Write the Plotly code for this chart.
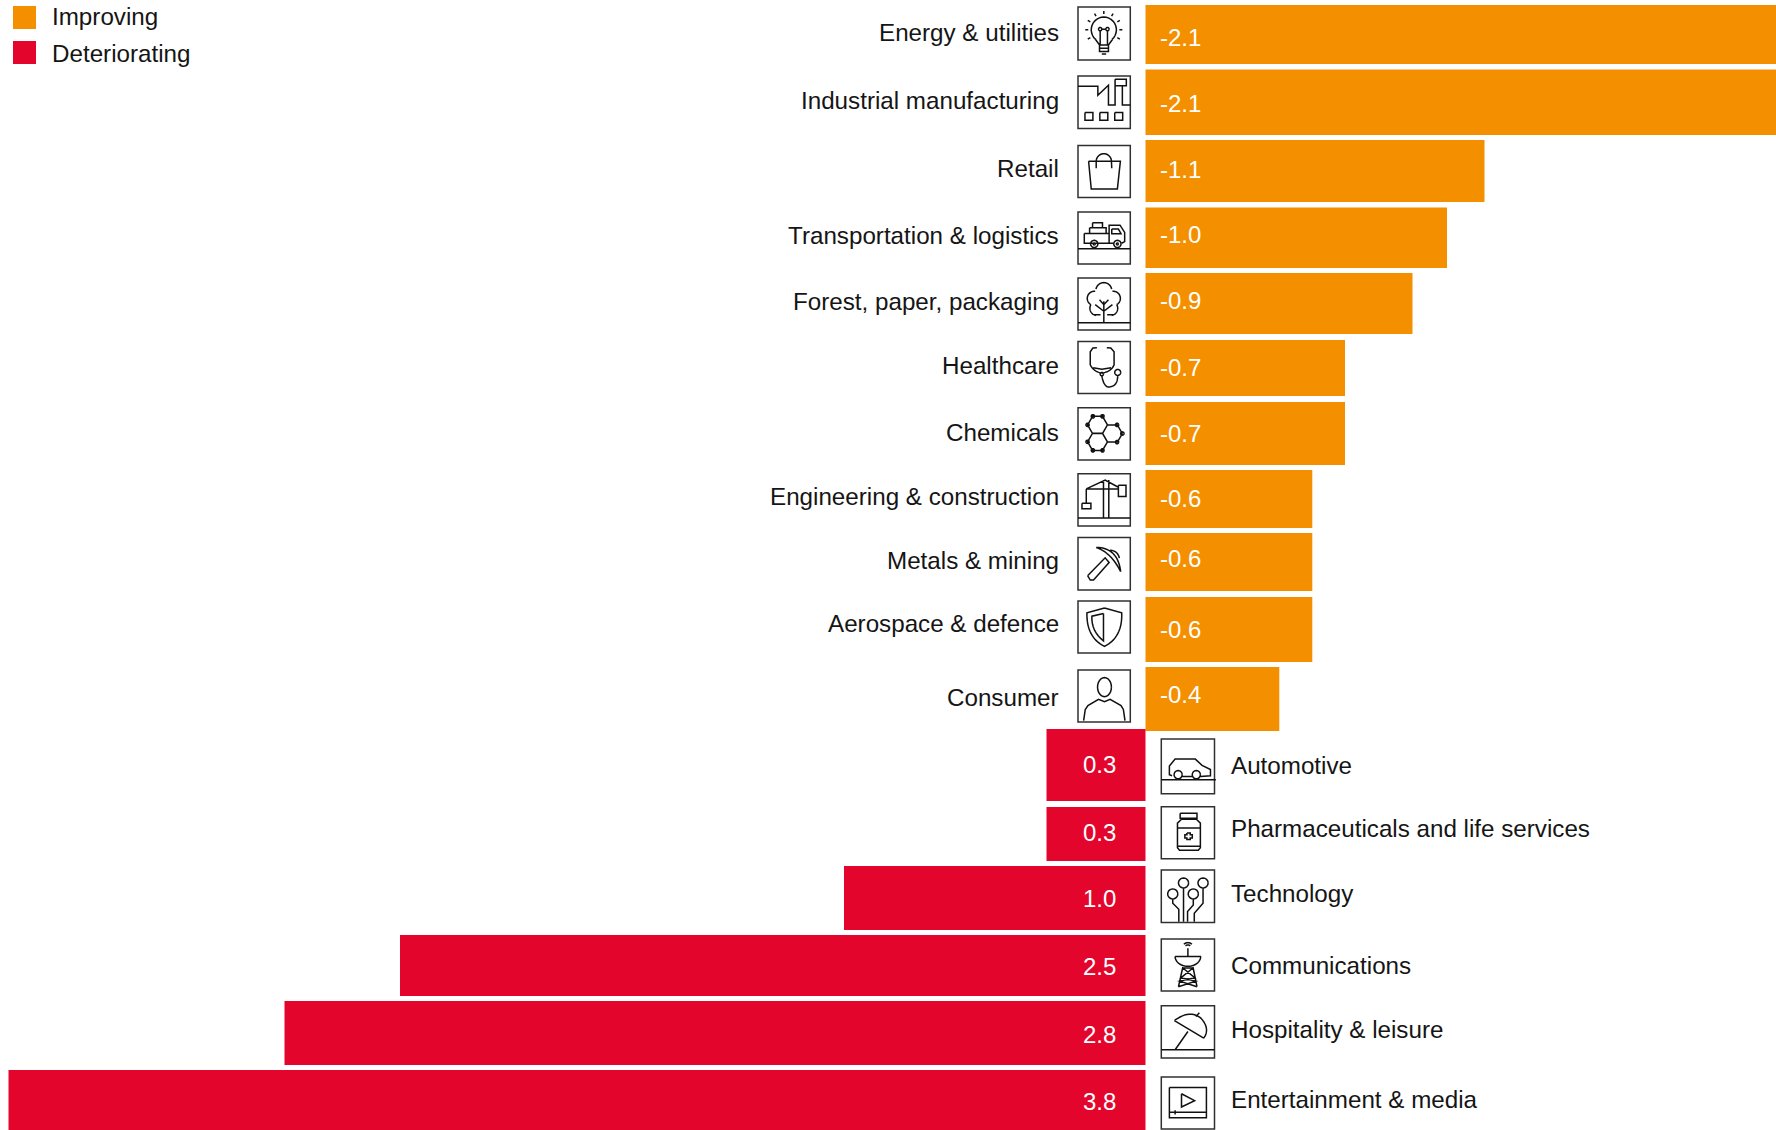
import math
import plotly.graph_objects as go

W, H = 1776, 1130
ORANGE, RED = "#F49000", "#E4052C"
FONT = "Liberation Sans"

# ---- chart data -------------------------------------------------------
improving_names = ["Energy & utilities", "Industrial manufacturing", "Retail",
                   "Transportation & logistics", "Forest, paper, packaging",
                   "Healthcare", "Chemicals", "Engineering & construction",
                   "Metals & mining", "Aerospace & defence", "Consumer"]
improving_values = [-2.11, -2.11, -1.13, -1.005, -0.89, -0.665, -0.665, -0.556, -0.556, -0.556, -0.446]
improving_labels = ["-2.1", "-2.1", "-1.1", "-1.0", "-0.9", "-0.7", "-0.7", "-0.6", "-0.6", "-0.6", "-0.4"]

deteriorating_names = ["Automotive", "Pharmaceuticals and life services", "Technology",
                       "Communications", "Hospitality & leisure", "Entertainment & media"]
deteriorating_values = [0.33, 0.33, 1.005, 2.485, 2.87, 3.79]
deteriorating_labels = ["0.3", "0.3", "1.0", "2.5", "2.8", "3.8"]

# ---- layout of the rows (page pixels) -----------------------------------
imp_bands = [(5, 64), (69.5, 135), (140, 202), (207.5, 268), (273, 334), (340, 396),
             (402, 465), (470, 528), (533, 591), (597, 662), (667, 731)]
det_bands = [(729, 801), (807, 861), (866, 930), (935, 996), (1001, 1065), (1070, 1130)]
imp_name_y = [33, 100, 168, 236, 302, 366, 433, 497, 560, 623, 697]
det_name_y = [765, 828, 893, 965, 1029, 1099]
imp_val_y = [37, 103, 169, 234, 300, 367, 433, 498, 558, 629, 694]
det_val_y = [764, 832, 898, 966, 1034, 1101]
imp_box = [(7, 60), (76, 128.5), (145.5, 197.5), (212, 264), (278, 330), (341.5, 393.5),
           (407.7, 460), (473.7, 526), (537.5, 590), (601, 653), (670, 722)]
det_box = [(739, 793.7), (806.7, 858.7), (870, 922.5), (939, 991), (1005.7, 1058), (1077, 1129)]
IMP_BOX_X = (1078, 1130.3)
DET_BOX_X = (1161.3, 1214.5)
ZERO_PX, PX_PER_UNIT = 1145.5, 300.0
TEXT_SIZE = 24.2


# ---- icon helpers (local box units: 158 x 158) ---------------------------
def arc(cx, cy, rx, a0, a1, ry=None, n=24):
    ry = rx if ry is None else ry
    return [(cx + rx * math.cos(math.radians(a0 + (a1 - a0) * i / n)),
             cy + ry * math.sin(math.radians(a0 + (a1 - a0) * i / n))) for i in range(n + 1)]


def circ(cx, cy, r, ry=None):
    return arc(cx, cy, r, 0, 360, ry)


def rect(x0, y0, x1, y1):
    return [(x0, y0), (x1, y0), (x1, y1), (x0, y1), (x0, y0)]


def quad(p0, c, p1, n=16):
    pts = []
    for i in range(n + 1):
        t = i / n
        pts.append(((1 - t) ** 2 * p0[0] + 2 * t * (1 - t) * c[0] + t * t * p1[0],
                    (1 - t) ** 2 * p0[1] + 2 * t * (1 - t) * c[1] + t * t * p1[1]))
    return pts


def hex_at(cx, cy, r):
    return [(cx + r * math.cos(math.radians(a)), cy + r * math.sin(math.radians(a)))
            for a in range(0, 361, 60)]


def bulb():
    p = [arc(78, 68, 38, 130, 410), [(53, 97), (65, 113), (92, 113), (104, 97)],
         rect(65, 113, 92, 133), [(65, 123), (92, 123)], [(72, 140), (85, 140)],
         [(67, 72), (67, 113)], [(89, 72), (89, 113)], circ(67, 66, 5), circ(89, 66, 5), [(72, 66), (84, 66)]]
    for a in range(150, 400, 30):
        c, s = math.cos(math.radians(a)), math.sin(math.radians(a))
        p.append([(78 + 47 * c, 68 + 47 * s), (78 + 56 * c, 68 + 56 * s)])
    return p


def factory():
    return [[(0, 31), (60, 31), (60, 58), (92, 28), (92, 87), (112, 87), (112, 29)],
            rect(112, 10, 146, 29), [(134, 29), (134, 87), (158, 87)],
            rect(21, 110, 45, 133), rect(66, 110, 90, 133), rect(111, 110, 135, 133)]


def bag():
    return [[(32, 48), (128, 48), (119, 132), (40, 132), (32, 48)],
            [(55, 69), (55, 48)] + arc(78, 48, 23, 180, 360) + [(102, 69)]]


def truck():
    return [[(0, 112), (158, 112)], rect(19, 65, 94, 95), rect(35, 48, 85, 65), rect(44, 33, 74, 48),
            [(94, 65), (94, 40), (127, 40), (141, 62), (141, 90), (132, 95)], [(94, 95), (106, 95)],
            [(102, 52), (122, 52), (130, 66), (102, 66), (102, 52)], circ(49, 97, 11), circ(119, 97, 11),
            circ(49, 97, 3), circ(119, 97, 3)]


def tree():
    return [[(0, 136), (158, 136)], [(78, 136), (78, 71)], [(78, 101), (52, 81)], [(78, 101), (104, 81)],
            [(65, 66), (78, 81), (92, 66)],
            arc(78, 38, 24, 190, 350), arc(50, 62, 22, 120, 275), arc(106, 62, 22, -95, 60),
            arc(58, 92, 22, 100, 210), arc(98, 92, 22, -30, 80), [(47, 111), (68, 112)], [(88, 112), (109, 111)]]


def stethoscope():
    return [[(57, 19), (45, 20), (37, 31), (37, 71)] + quad((37, 71), (48, 92), (72, 96))[1:],
            [(87, 19), (99, 20), (109, 31), (109, 71)] + quad((109, 71), (100, 92), (72, 96))[1:],
            [(46, 80), (72, 84), (100, 80)], circ(72, 99, 5),
            quad((72, 104), (78, 140), (95, 138)) + quad((95, 138), (120, 136), (120, 103))[1:], circ(120, 94, 9)]


def chemicals():
    p = [hex_at(59, 52, 30), hex_at(59, 103, 30), hex_at(104, 78, 30)]
    for x, y in [(45, 26), (74, 26), (118, 52), (134, 78), (118, 104), (45, 129), (74, 129), (29, 52), (29, 103)]:
        p.append(circ(x, y, 5))
    return p


def crane():
    return [[(0, 134), (158, 134)], [(77, 19), (77, 134)], [(93, 19), (93, 134)],
            [(25, 46), (82, 19), (122, 41)], [(25, 46), (122, 46)], rect(122, 35, 145, 69),
            [(25, 46), (25, 89)], rect(12, 89, 39, 106)]


def pick():
    return [[(29, 115), (82, 61), (94, 75), (47, 128), (37, 128), (29, 115)],
            quad((55, 30), (120, 30), (129, 103)), quad((55, 30), (100, 45), (129, 103)),
            quad((97, 38), (120, 40), (125, 62))]


def shield():
    return [[(80, 21), (132, 36)] + quad((132, 36), (135, 110), (80, 138))[1:] + quad((80, 138), (25, 110), (27, 36))[1:] + [(80, 21)],
            [(77, 38), (42, 46)] + quad((42, 46), (40, 92), (77, 121))[1:] + [(77, 38)]]


def person():
    return [circ(80, 52, 21, 29),
            [(17, 154), (22, 120), (30, 108), (62, 89), (80, 96), (97, 89), (130, 108), (137, 120), (142, 154)]]


def car():
    return [[(0, 118), (162, 118)],
            [(32, 106), (24, 103), (24, 78), (41, 58), (101, 58), (121, 76), (146, 88), (146, 106), (116, 108)],
            circ(50, 103, 12), circ(104, 103, 12), [(62, 108), (92, 108)]]


def pharma():
    return [rect(56, 20, 106, 35),
            [(60, 38), (48, 50), (48, 125), (54, 132), (110, 132), (116, 125), (116, 50), (104, 38), (60, 38)],
            [(48, 65), (116, 65)], [(48, 120), (116, 120)],
            [(76, 80), (86, 80), (86, 85), (92, 85), (92, 95), (86, 95), (86, 100), (76, 100), (76, 95), (70, 95), (70, 85), (76, 85), (76, 80)]]


def tech():
    return [circ(34, 72, 15), circ(66, 39, 15), circ(95, 72, 15), circ(124, 39, 15),
            [(34, 87), (34, 100), (52, 118), (52, 156)], [(66, 54), (66, 156)],
            [(95, 87), (95, 105), (78, 125), (78, 156)], [(124, 54), (124, 100), (98, 130), (98, 156)]]


def comm():
    return [[(41, 53), (118, 53)], arc(79, 53, 38, 0, 180, 30), [(79, 28), (79, 53)],
            arc(79, 28, 10, 225, 315), arc(79, 28, 17, 225, 315),
            [(64, 85), (51, 145)], [(94, 85), (106, 145)], [(64, 88), (94, 88)],
            [(64, 88), (100, 118), (55, 128), (106, 145)], [(94, 88), (58, 118), (102, 128), (51, 145)]]


def umbrella():
    return [[(0, 133), (158, 133)], [(79, 78), (41, 133)], [(39, 45), (126, 98)],
            quad((39, 45), (85, 10), (118, 38)) + quad((118, 38), (146, 70), (126, 98))[1:],
            [(103, 33), (113, 21)]]


def media():
    return [rect(24, 32, 134, 124), [(60, 51), (99, 72), (60, 91), (60, 51)],
            [(24, 107), (134, 107)], [(41, 101), (41, 114)]]


imp_icons = [bulb, factory, bag, truck, tree, stethoscope, chemicals, crane, pick, shield, person]
det_icons = [car, pharma, tech, comm, umbrella, media]


def to_paper(px, py):
    return px / W, 1 - py / H


def icon_shape(fn, xr, yr):
    sx, sy = (xr[1] - xr[0]) / 158, (yr[1] - yr[0]) / 158
    segs = []
    for line in fn():
        coords = [to_paper(xr[0] + a * sx, yr[0] + b * sy) for a, b in line]
        segs.append("M" + " L".join(f"{a:.5f},{b:.5f}" for a, b in coords))
    return dict(type="path", xref="paper", yref="paper", path=" ".join(segs),
                line=dict(color="#111111", width=1.5), layer="above")


def box_shape(xr, yr):
    x0, y0 = to_paper(xr[0], yr[0])
    x1, y1 = to_paper(xr[1], yr[1])
    return dict(type="rect", xref="paper", yref="paper", x0=x0, y0=y0, x1=x1, y1=y1,
                line=dict(color="#303030", width=1.5), fillcolor="rgba(0,0,0,0)")


shapes, ann = [], []

for fn, yr in zip(imp_icons, imp_box):
    shapes += [box_shape(IMP_BOX_X, yr), icon_shape(fn, IMP_BOX_X, yr)]
for fn, yr in zip(det_icons, det_box):
    shapes += [box_shape(DET_BOX_X, yr), icon_shape(fn, DET_BOX_X, yr)]


def text(px, py, s, anchor, size, color="#151515"):
    x, y = to_paper(px, py)
    ann.append(dict(xref="paper", yref="paper", x=x, y=y, text=s, showarrow=False,
                    xanchor=anchor, yanchor="middle", borderpad=0, borderwidth=0,
                    font=dict(family=FONT, size=size, color=color)))


for name, y in zip(improving_names, imp_name_y):
    text(1059, y, name, "right", TEXT_SIZE)
for name, y in zip(deteriorating_names, det_name_y):
    text(1231, y, name, "left", TEXT_SIZE)
for lab, y in zip(improving_labels, imp_val_y):
    ann.append(dict(xref="x", yref="y", x=0, y=y, xshift=12.5, text=lab, showarrow=False, xanchor="left",
                    yanchor="middle", font=dict(family=FONT, size=24, color="white")))
for lab, y in zip(deteriorating_labels, det_val_y):
    ann.append(dict(xref="x", yref="y", x=0, y=y, xshift=-46, text=lab, showarrow=False, xanchor="center",
                    yanchor="middle", font=dict(family=FONT, size=24, color="white")))

# legend
for label, colour, yr, ty in [("Improving", ORANGE, (6, 29), 17), ("Deteriorating", RED, (41, 64), 54)]:
    x0, y0 = to_paper(13, yr[0])
    x1, y1 = to_paper(36, yr[1])
    shapes.append(dict(type="rect", xref="paper", yref="paper", x0=x0, y0=y0, x1=x1, y1=y1,
                       fillcolor=colour, line=dict(width=0)))
    text(52, ty, label, "left", TEXT_SIZE)


def bar_trace(name, values, bands, colour):
    return go.Bar(name=name, x=values, y=[(a + b) / 2 for a, b in bands], width=[b - a for a, b in bands],
                  orientation="h", marker=dict(color=colour, line=dict(width=0)), showlegend=False,
                  hoverinfo="x+name")


fig = go.Figure([bar_trace("Improving", improving_values, imp_bands, ORANGE),
                 bar_trace("Deteriorating", deteriorating_values, det_bands, RED)])
fig.update_layout(
    width=W, height=H, margin=dict(l=0, r=0, t=0, b=0), paper_bgcolor="white", plot_bgcolor="white",
    barmode="overlay", shapes=shapes, annotations=ann,
    xaxis=dict(range=[ZERO_PX / PX_PER_UNIT, (ZERO_PX - W) / PX_PER_UNIT], visible=False, fixedrange=True),
    yaxis=dict(range=[H, 0], visible=False, fixedrange=True),
)
fig.write_html("out.html", post_script="document.body.style.margin='0';document.documentElement.style.overflow='hidden';",
               config=dict(displayModeBar=False))
